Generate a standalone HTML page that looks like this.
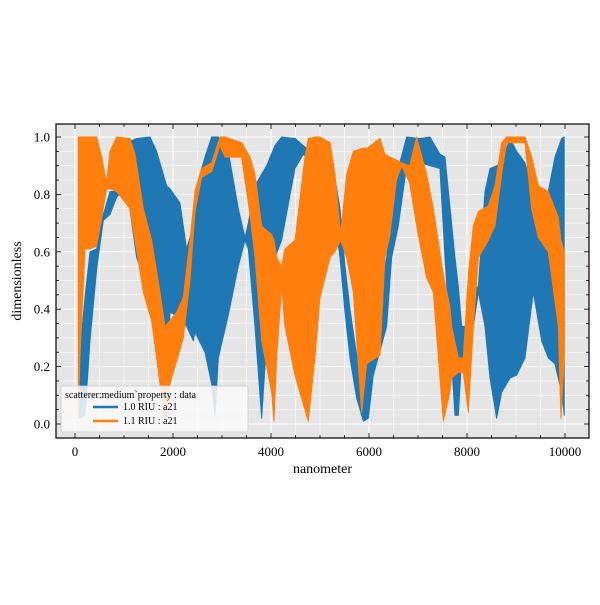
<!DOCTYPE html>
<html><head><meta charset="utf-8"><style>
body{margin:0;background:#fff;width:600px;height:600px;overflow:hidden}
svg text{font-family:"Liberation Serif","DejaVu Serif",serif;fill:#000}
</style></head><body>
<svg id="chart" width="600" height="600"></svg>
<script>
const blueX=[88,204,306,442,578,714,850,1054,1258,1530,1666,1870,1938,2142,2278,2414,2449,2653,2789,2857,2925,3129,3333,3469,3537,3673,3809,3911,4081,4217,4489,4659,4800,5100,5272,5408,5510,5612,5748,5884,5986,6088,6360,6462,6598,6768,7040,7244,7448,7551,7755,7823,7891,7993,8095,8231,8367,8469,8605,8707,8877,9013,9183,9353,9523,9659,9795,9931,9985];
const blueHi=[0.23,0.44,0.60,0.61,0.73,0.81,0.81,0.98,0.995,1.0,0.95,0.83,0.82,0.77,0.61,0.69,0.81,0.93,1.0,1.0,1.0,0.95,0.75,0.65,0.70,0.83,0.87,0.90,0.97,1.0,0.995,0.97,0.95,0.92,0.89,0.75,0.55,0.40,0.24,0.21,0.23,0.34,0.58,0.75,0.89,1.0,0.995,1.0,0.94,0.93,0.58,0.48,0.34,0.34,0.46,0.48,0.81,0.89,0.90,0.91,0.995,0.95,0.91,0.81,0.66,0.81,0.93,0.995,1.0];
const blueLo=[0.02,0.03,0.29,0.54,0.71,0.73,0.79,0.83,0.58,0.45,0.34,0.02,0.39,0.37,0.34,0.29,0.32,0.25,0.14,0.03,0.23,0.38,0.55,0.64,0.61,0.34,0.02,0.29,0.58,0.64,0.89,0.94,0.92,0.80,0.75,0.58,0.39,0.23,0.09,0.01,0.02,0.17,0.34,0.58,0.69,0.90,0.91,0.90,0.89,0.58,0.03,0.03,0.23,0.16,0.30,0.46,0.34,0.16,0.02,0.11,0.16,0.17,0.23,0.46,0.29,0.23,0.21,0.11,0.03];
const orX=[68,100,204,306,442,544,646,714,850,1122,1224,1394,1564,1734,1836,1938,2074,2210,2346,2449,2585,2789,2959,3061,3401,3571,3673,3809,4013,4061,4115,4217,4285,4489,4693,4761,4897,5000,5204,5306,5422,5544,5680,5850,5952,6224,6326,6428,6560,6666,6830,6972,7176,7312,7516,7650,7687,7823,7925,8027,8129,8231,8435,8571,8707,8809,9183,9319,9455,9659,9863,9917,9985];
const orHi=[1.0,1.0,1.0,1.0,1.0,0.93,0.84,0.95,1.0,0.995,0.94,0.75,0.64,0.46,0.34,0.36,0.39,0.44,0.64,0.81,0.89,0.91,1.0,1.0,0.98,0.93,0.87,0.69,0.66,0.64,0.58,0.55,0.61,0.64,0.93,0.995,1.0,1.0,0.98,0.87,0.66,0.87,0.95,0.96,0.96,0.995,0.94,0.93,0.92,0.91,0.90,1.0,0.87,0.75,0.52,0.41,0.34,0.23,0.23,0.52,0.69,0.74,0.76,0.83,0.98,1.0,1.0,0.93,0.83,0.81,0.72,0.64,0.60];
const orLo=[0.02,0.23,0.61,0.61,0.62,0.72,0.82,0.82,0.81,0.75,0.64,0.46,0.36,0.14,0.01,0.14,0.22,0.30,0.50,0.74,0.86,0.88,0.97,0.93,0.93,0.73,0.58,0.29,0.11,0.01,0.23,0.48,0.34,0.17,0.05,0.01,0.23,0.44,0.58,0.60,0.64,0.58,0.46,0.04,0.21,0.24,0.58,0.66,0.85,0.90,0.84,0.69,0.51,0.46,0.01,0.11,0.16,0.18,0.18,0.04,0.34,0.58,0.64,0.69,0.87,0.98,0.98,0.75,0.65,0.60,0.34,0.02,0.23];
const xTicks=[0,2000,4000,6000,8000,10000];
const yTicks=[0,0.2,0.4,0.6,0.8,1.0];
const NS='http://www.w3.org/2000/svg';
const svg=document.getElementById('chart');
const L=56,R=589,T=124,B=438;
const X=v=>75+v*0.049;
const Y=v=>424-v*287;
function el(tag,attrs,parent){const e=document.createElementNS(NS,tag);for(const k in attrs)e.setAttribute(k,attrs[k]);(parent||svg).appendChild(e);return e;}
const bg=el('rect',{x:L,y:T,width:R-L,height:B-T,fill:'#e5e5e5'});


for(let v=-500;v<=10500;v+=500){const x=X(v);if(x<=L||x>=R)continue;
 const g=el('line',{x1:x,x2:x,y1:T,y2:B,stroke:'#fff','stroke-width':v%2000===0?1:0.6});
 
 }
for(let i=-1;i<=21;i++){const v=i*0.05;const y=Y(v);if(y<=T||y>=B)continue;
 const g=el('line',{x1:L,x2:R,y1:y,y2:y,stroke:'#fff','stroke-width':i%4===0?1:0.6});
 
 }
function band(xs,hi,lo,color,name){
 let pts=[];
 for(let i=0;i<xs.length;i++)pts.push(X(xs[i])+','+Y(hi[i]));
 for(let i=xs.length-1;i>=0;i--)pts.push(X(xs[i])+','+Y(lo[i]));
 const p=el('polygon',{points:pts.join(' '),fill:color,stroke:color,'stroke-width':1,'stroke-linejoin':'round'});
 
 
}
band(blueX,blueHi,blueLo,'#1f77b4','series-1-0-riu');
band(orX,orHi,orLo,'#ff7f0e','series-1-1-riu');
const fr=el('rect',{x:L,y:T,width:R-L,height:B-T,fill:'none',stroke:'#000','stroke-width':1.2});


for(let v=-500;v<=10500;v+=500){const x=X(v);if(x<=L||x>=R)continue;const len=v%2000===0?5:3;
 el('line',{x1:x,x2:x,y1:B,y2:B-len,stroke:'#000','stroke-width':0.8});
 el('line',{x1:x,x2:x,y1:T,y2:T+len,stroke:'#000','stroke-width':0.8});}
for(let i=-1;i<=21;i++){const y=Y(i*0.05);if(y<=T||y>=B)continue;const len=i%4===0?5:3;
 el('line',{x1:L,x2:L+len,y1:y,y2:y,stroke:'#000','stroke-width':0.8});
 el('line',{x1:R,x2:R-len,y1:y,y2:y,stroke:'#000','stroke-width':0.8});}
xTicks.forEach(v=>{const t=el('text',{x:X(v),y:B+18,'font-size':13,'text-anchor':'middle'});t.textContent=v;
 
 });
yTicks.forEach(v=>{const t=el('text',{x:L-6,y:Y(v)+4.5,'font-size':13,'text-anchor':'end'});t.textContent=v.toFixed(1);
 
 });
const xl=el('text',{x:(L+R)/2,y:473,'font-size':14,'text-anchor':'middle'});xl.textContent='nanometer';


const yl=el('text',{x:0,y:0,'font-size':14,'text-anchor':'middle',transform:'translate(21,281) rotate(-90)'});yl.textContent='dimensionless';


const lg=el('g',{});


el('rect',{x:61,y:386,width:187,height:46,fill:'#fafafa','fill-opacity':0.85,stroke:'#ccc','stroke-width':0.8,rx:2},lg);
const lt=el('text',{x:65,y:398,'font-size':10},lg);lt.textContent='scatterer:medium`property : data';
[['#1f77b4','1.0 RIU : a21',410],['#ff7f0e','1.1 RIU : a21',424]].forEach(([c,s,y])=>{
 const ln=el('line',{x1:93,x2:118,y1:y-3,y2:y-3,stroke:c,'stroke-width':2.5},lg);
 
 
 const t=el('text',{x:123,y:y,'font-size':10},lg);t.textContent=s;
 
 
});
</script>
</body></html>
